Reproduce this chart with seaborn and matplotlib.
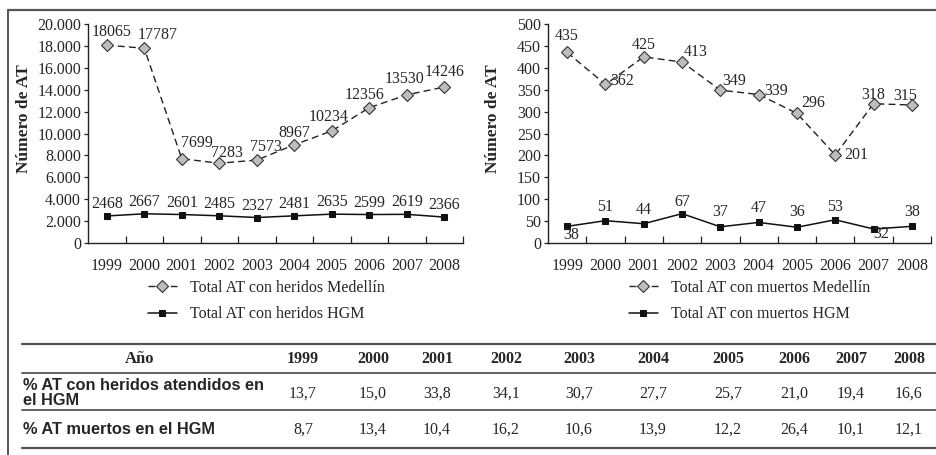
import numpy as np
import pandas as pd
import seaborn as sns
import matplotlib.pyplot as plt

# datos
years = ['1999', '2000', '2001', '2002', '2003', '2004', '2005', '2006', '2007', '2008']
heridos_medellin = [18065, 17787, 7699, 7283, 7573, 8967, 10234, 12356, 13530, 14246]
heridos_hgm = [2468, 2667, 2601, 2485, 2327, 2481, 2635, 2599, 2619, 2366]
muertos_medellin = [435, 362, 425, 413, 349, 339, 296, 201, 318, 315]
muertos_hgm = [38, 51, 44, 67, 37, 47, 36, 53, 32, 38]
pct_heridos = ['13,7', '15,0', '33,8', '34,1', '30,7', '27,7', '25,7', '21,0', '19,4', '16,6']
pct_muertos = ['8,7', '13,4', '10,4', '16,2', '10,6', '13,9', '12,2', '26,4', '10,1', '12,1']

# desplazamiento de etiquetas (pixeles)
off_hm = [(5, 13), (13, 13), (15, 16), (8, 10), (9, 13), (0, 12), (-3, 14), (-5, 13), (-2, 16), (0, 15)]
off_hh = [(0, 12)] * 10
off_mm = [(0, 16), (17, 3), (0, 12), (14, 10), (14, 9), (17, 4), (16, 10), (21, 0), (0, 9), (-7, 9)]
off_mh = [(4, -9), (0, 14), (0, 14), (0, 12), (0, 15), (0, 14), (0, 15), (0, 13), (8, -5), (0, 14)]

sns.set_style('ticks')
plt.rcParams['font.family'] = ['Liberation Serif', 'DejaVu Serif']

W, H = 936, 455
fig = plt.figure(figsize=(W / 100, H / 100), dpi=100)

# marco y tabla en coordenadas de pixel
bg = fig.add_axes([0, 0, 1, 1], zorder=-1)
bg.set_xlim(0, W)
bg.set_ylim(H, 0)
bg.axis('off')
bg.plot([8, W], [9.5, 9.5], color='#555555', lw=1.6)
bg.plot([8, 8], [9.5, H], color='#555555', lw=1.4)


def line_chart(rect, med, hgm, lab_med, lab_hgm, off_med, off_hgm, ymax, ystep, fmt, ylab_x, leg_x):
    ax = fig.add_axes([rect[0] / W, 1 - rect[3] / H, (rect[2] - rect[0]) / W, (rect[3] - rect[1]) / H])
    df = pd.DataFrame({'year': years, 'med': med, 'hgm': hgm})
    sns.lineplot(data=df, x='year', y='med', ax=ax, color='#222222', lw=1.0, linestyle=(0, (5, 3)),
                 marker='D', markersize=6, markerfacecolor='#bdbdbd', markeredgecolor='#333333',
                 markeredgewidth=0.8, label=lab_med)
    sns.lineplot(data=df, x='year', y='hgm', ax=ax, color='#111111', lw=1.1,
                 marker='s', markersize=5, markerfacecolor='#111111', markeredgecolor='#111111',
                 label=lab_hgm)
    for y, v, o in zip(years, med, off_med):
        ax.annotate(str(v), xy=(y, v), xytext=o, textcoords='offset pixels',
                    ha='center', va='center', fontsize=11.5)
    for y, v, o in zip(years, hgm, off_hgm):
        ax.annotate(str(v), xy=(y, v), xytext=o, textcoords='offset pixels',
                    ha='center', va='center', fontsize=11.5)
    ax.set_xlim(-0.5, 9.5)
    ax.set_ylim(0, ymax)
    ticks = np.arange(0, ymax + 1, ystep)
    ax.set_yticks(ticks)
    ax.set_yticklabels([fmt(t) for t in ticks], fontsize=11.5)
    ax.set_xticks(range(len(years)))
    ax.set_xticklabels(years, fontsize=11.5)
    ax.set_xticks(np.arange(0.5, 10, 1), minor=True)
    ax.tick_params(axis='x', which='major', length=0, pad=11)
    ax.tick_params(axis='x', which='minor', direction='in', length=5, width=0.9, color='#222222')
    ax.tick_params(axis='y', length=3, width=0.9, pad=2, color='#222222')
    sns.despine(ax=ax)
    for s in ['left', 'bottom']:
        ax.spines[s].set_color('#222222')
        ax.spines[s].set_linewidth(1.0)
    ax.set_xlabel('')
    ax.set_ylabel('Número de AT', fontsize=12.5, fontweight='bold')
    ax.yaxis.set_label_coords(ylab_x, 0.57)
    ax.patch.set_alpha(0)
    ax.legend(loc='upper left', bbox_to_anchor=(leg_x / W, 1 - 280 / H), bbox_transform=fig.transFigure,
              frameon=False, fontsize=11.5, handlelength=1.8, handletextpad=0.8,
              labelspacing=0.65, borderaxespad=0, borderpad=0)
    return ax


line_chart((88, 24, 463, 243), heridos_medellin, heridos_hgm,
           'Total AT con heridos Medellín', 'Total AT con heridos HGM',
           off_hm, off_hh, 20000, 2000,
           lambda t: '0' if t == 0 else f'{int(t):,}'.replace(',', '.'), -0.149, 148)
line_chart((548, 24, 931, 243), muertos_medellin, muertos_hgm,
           'Total AT con muertos Medellín', 'Total AT con muertos HGM',
           off_mm, off_mh, 500, 50, lambda t: str(int(t)), -0.123, 629)

# tabla
col_x = [303, 373, 437, 506, 579, 653, 728, 794, 851, 909]
for yl, lw in [(344, 1.6), (373, 1.3), (410, 1.3), (448, 1.6)]:
    bg.plot([22, W], [yl, yl], color='#555555', lw=lw)
bg.text(140, 359, 'Año', ha='center', va='center', fontsize=12, fontweight='bold')
bg.text(23, 393, '% AT con heridos atendidos en\nel HGM', ha='left', va='center', fontsize=11.8,
        fontweight='bold', family=['Liberation Sans', 'DejaVu Sans'], linespacing=0.95)
bg.text(23, 429, '% AT muertos en el HGM', ha='left', va='center', fontsize=11.8,
        fontweight='bold', family=['Liberation Sans', 'DejaVu Sans'])
for x, y, a, b in zip(col_x, years, pct_heridos, pct_muertos):
    bg.text(x, 359, y, ha='center', va='center', fontsize=11.5, fontweight='bold')
    bg.text(x, 394, a, ha='center', va='center', fontsize=11.5)
    bg.text(x, 430, b, ha='center', va='center', fontsize=11.5)

fig.savefig('out.png', dpi=100)
